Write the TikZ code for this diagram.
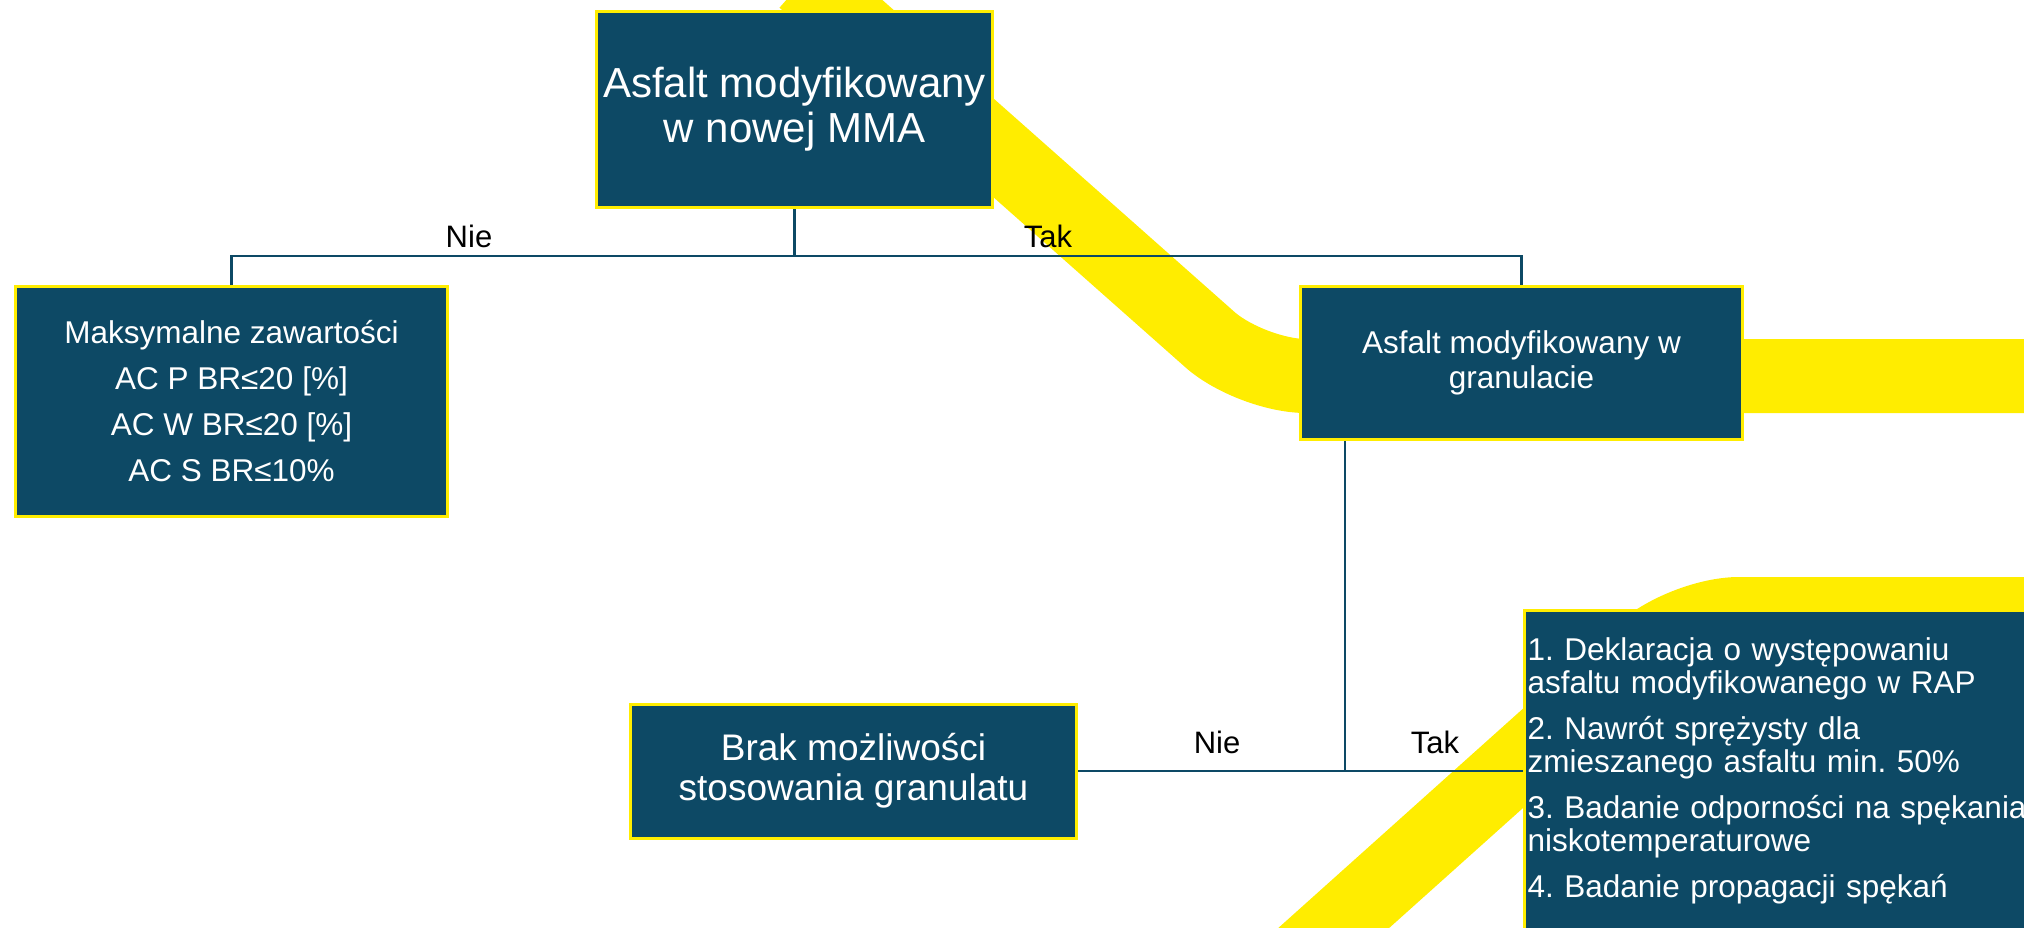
\documentclass[tikz,border=0pt]{standalone}
\usepackage{fontspec}
\setmainfont{Liberation Sans}
\frenchspacing
\definecolor{boxteal}{RGB}{13,73,101}
\definecolor{bandyellow}{RGB}{255,237,0}

\begin{document}
\begin{tikzpicture}[x=1pt,y=-1pt]
    \tikzset{
        boxstyle/.style={draw=bandyellow, line width=3pt, fill=boxteal, text=white, inner sep=0pt, align=center},
        linkstyle/.style={draw=boxteal, line width=2.8pt},
        answer/.style={font=\fontsize{31}{33}\selectfont, anchor=base, inner sep=0pt},
        bandstyle/.style={draw=bandyellow, line width=74pt, rounded corners=55pt}
    }
    \useasboundingbox (0,0) rectangle (2024,927);
    \clip (0,0) rectangle (2024,927);

    % --- pasy w tle ---
    \draw[bandstyle] (804,-20) -- (1251,376) -- (2100,376);
    \draw[bandstyle] (1298,960) -- (1684,614) -- (2100,614);

    % --- bloki ---
    \node[boxstyle, minimum width=396, minimum height=196, font=\fontsize{42}{45}\selectfont]
        (mma) at (794.5,109.5) {Asfalt modyfikowany\\w nowej MMA};
    \node[boxstyle, minimum width=432, minimum height=230, font=\fontsize{31.5}{46}\selectfont]
        (maxbr) at (231.5,401.5) {Maksymalne zawartości\\AC P BR≤20 [\%]\\AC W BR≤20 [\%]\\AC S BR≤10\%};
    \node[boxstyle, minimum width=442, minimum height=153, font=\fontsize{31.5}{35}\selectfont]
        (granul) at (1521.5,363) {Asfalt modyfikowany w\\granulacie};
    \node[boxstyle, minimum width=446, minimum height=134, font=\fontsize{37}{40}\selectfont]
        (brak) at (853.5,771) {Brak możliwości\\stosowania granulatu};
    \node[boxstyle, minimum width=514, minimum height=321, align=left, text width=508,
          inner xsep=1.5pt, font=\fontsize{31.5}{33}\selectfont]
        (warunki) at (1781.5,771) {1. Deklaracja o występowaniu\\asfaltu modyfikowanego w RAP\\[13pt]
        2. Nawrót sprężysty dla\\zmieszanego asfaltu min. 50\%\\[13pt]
        3. Badanie odporności na spękania\\niskotemperaturowe\\[13pt]
        4. Badanie propagacji spękań};

    % --- połączenia ---
    \coordinate (j1) at (794.5,256);
    \coordinate (j2) at (1345,771);
    \draw[linkstyle] (mma.south) -- (j1);
    \draw[linkstyle] (maxbr.north) -- (maxbr.north |- j1) -- (granul.north |- j1) -- (granul.north);
    \draw[linkstyle] (j2 |- granul.south) -- (j2);
    \draw[linkstyle] (brak.east) -- (warunki.west);

    % --- odpowiedzi ---
    \node[answer] (nie1) at (469,247) {Nie};
    \node[answer] (tak1) at (1048,247) {Tak};
    \node[answer] (nie2) at (1217,753) {Nie};
    \node[answer] (tak2) at (1435,753) {Tak};
\end{tikzpicture}
\end{document}
